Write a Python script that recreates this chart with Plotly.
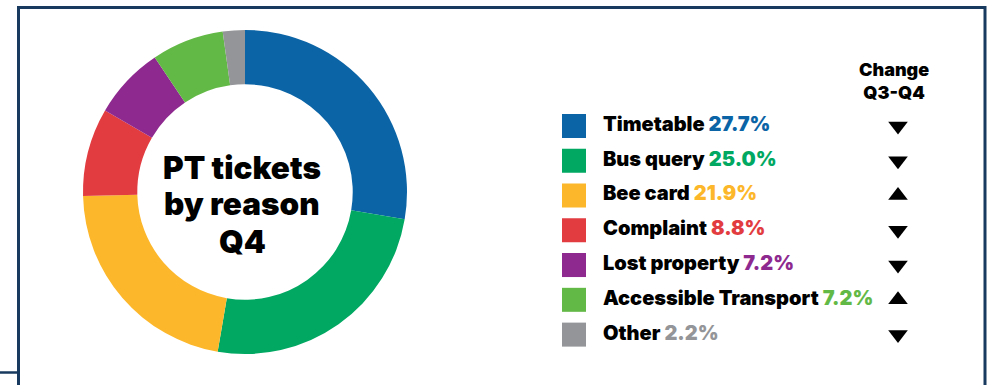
import plotly.graph_objects as go

# Ticket reasons, share of Q4 tickets (%) and direction of change Q3 -> Q4
reasons = ["Timetable", "Bus query", "Bee card", "Complaint",
           "Lost property", "Accessible Transport", "Other"]
shares = [27.7, 25.0, 21.9, 8.8, 7.2, 7.2, 2.2]
change = ["down", "down", "up", "down", "down", "up", "down"]
colors = ["#0b64a6", "#00a862", "#fdb72b", "#e23c40",
          "#8e2a8f", "#63b946", "#939598"]

title_lines = ["PT tickets", "by reason", "Q4"]

W, H = 989, 385
FONT = "Inter"
FRAME = "#173a5e"


def px(x):
    return x / W


def py(y):
    return 1 - y / H


fig = go.Figure()

# Donut
fig.add_trace(go.Pie(
    labels=reasons, values=shares,
    marker=dict(colors=colors, line=dict(width=0)),
    hole=0.665, sort=False, direction="clockwise", rotation=0,
    textinfo="none", hoverinfo="label+percent",
    domain=dict(x=[px(82), px(408)], y=[py(354), py(30)]),
    showlegend=False,
))

# Legend rows drawn on a helper axis pair (1 unit = 1 px horizontally)
fig.add_trace(go.Scatter(
    x=[24] * len(reasons), y=reasons, mode="markers",
    marker=dict(symbol="square", size=24, color=colors, line=dict(width=0)),
    xaxis="x2", yaxis="y2", showlegend=False, hoverinfo="skip",
))
labels = [f"{r} <span style='color:{c}'>{v:.1f}%</span>"
          for r, v, c in zip(reasons, shares, colors)]
fig.add_trace(go.Scatter(
    x=[53] * len(reasons), y=reasons, mode="text",
    text=labels, textposition="middle right",
    textfont=dict(family=FONT, size=20, color="#000000", weight=900),
    xaxis="x2", yaxis="y2", showlegend=False, hoverinfo="skip",
))
fig.add_trace(go.Scatter(
    x=[348] * len(reasons), y=reasons, mode="markers",
    marker=dict(symbol=["triangle-up" if c == "up" else "triangle-down"
                        for c in change],
                size=17, color="#000000", line=dict(width=0)),
    xaxis="x2", yaxis="y2", showlegend=False, hoverinfo="skip",
))

# Centre title, one annotation per line for tighter leading
title_y = [167, 204, 241]
annotations = [
    dict(x=px(242), y=py(yy), xref="paper", yref="paper",
         xanchor="center", yanchor="middle",
         text=t, showarrow=False,
         font=dict(family=FONT, size=31.5, color="#000000", weight=900))
    for t, yy in zip(title_lines, title_y)
]
annotations.append(
    dict(x=px(894), y=py(81), xref="paper", yref="paper",
         xanchor="center", yanchor="middle",
         text="Change<br>Q3-Q4", showarrow=False,
         font=dict(family=FONT, size=18, color="#000000", weight=900),
         align="center")
)

fig.update_layout(
    width=W, height=H,
    margin=dict(l=0, r=0, t=0, b=0),
    paper_bgcolor="white", plot_bgcolor="white",
    xaxis2=dict(domain=[px(550), px(950)], range=[0, 400], visible=False,
                fixedrange=True),
    yaxis2=dict(domain=[py(352), py(108.5)], type="category",
                categoryorder="array", categoryarray=reasons,
                range=[len(reasons) - 0.5, -0.5], visible=False,
                anchor="x2", fixedrange=True),
    annotations=annotations,
    shapes=[
        dict(type="line", xref="paper", yref="paper",
             x0=px(17), x1=px(986), y0=py(7.5), y1=py(7.5),
             line=dict(color=FRAME, width=3)),
        dict(type="line", xref="paper", yref="paper",
             x0=px(18.5), x1=px(18.5), y0=py(6), y1=0,
             line=dict(color=FRAME, width=3)),
        dict(type="line", xref="paper", yref="paper",
             x0=px(985), x1=px(985), y0=py(6), y1=0,
             line=dict(color=FRAME, width=3)),
        dict(type="line", xref="paper", yref="paper",
             x0=0, x1=px(18.5), y0=py(372.5), y1=py(372.5),
             line=dict(color=FRAME, width=2.5)),
    ],
)

fig.write_html("out.html")
